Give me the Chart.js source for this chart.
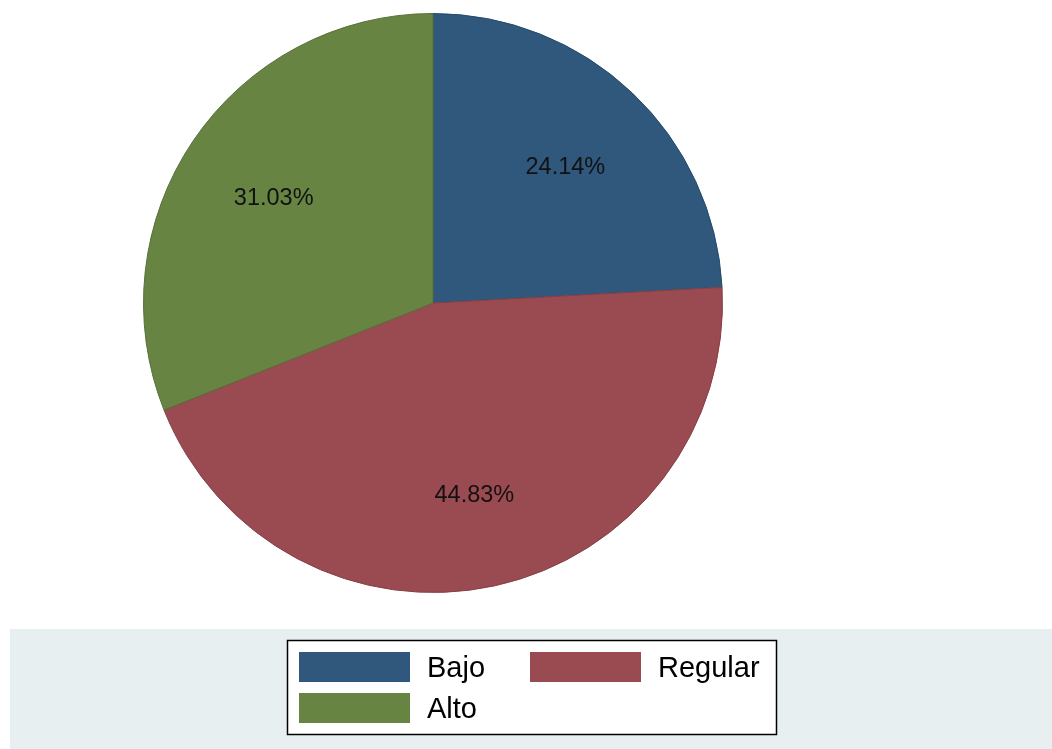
<!DOCTYPE html>
<html>
<head>
<meta charset="utf-8">
<script src="https://cdn.jsdelivr.net/npm/chart.js@4"></script>
<style>
  html, body { margin: 0; padding: 0; background: #ffffff; }
  #wrap { width: 1052px; height: 749px; position: relative; }
  canvas { display: block; }
</style>
</head>
<body>
<div id="wrap"><canvas id="c" width="1052" height="749"></canvas></div>
<script>
const categories = ['Bajo', 'Regular', 'Alto'];
const percentValues = [24.14, 44.83, 31.03];
const sliceColors = ['#2f587c', '#9a4a51', '#678443'];
const sliceBorders = ['#264a6a', '#853f45', '#56703a'];

const FONT = '"Liberation Sans", Arial, Helvetica, sans-serif';

const pctLabels = {
  id: 'pctLabels',
  afterDatasetsDraw(chart) {
    const ctx = chart.ctx;
    const meta = chart.getDatasetMeta(0);
    const data = chart.data.datasets[0].data;
    ctx.save();
    ctx.font = '23.5px ' + FONT;
    ctx.fillStyle = '#111111';
    ctx.textAlign = 'center';
    ctx.textBaseline = 'middle';
    meta.data.forEach((arc, i) => {
      const p = arc.getProps(['x', 'y', 'startAngle', 'endAngle', 'outerRadius'], true);
      const mid = (p.startAngle + p.endAngle) / 2;
      const r = p.outerRadius * 0.665;
      ctx.fillText(data[i].toFixed(2) + '%', p.x + Math.cos(mid) * r, p.y + Math.sin(mid) * r + 4);
    });
    ctx.restore();
  }
};

const stataLegend = {
  id: 'stataLegend',
  afterDraw(chart) {
    const ctx = chart.ctx;
    const labels = chart.data.labels;
    const colors = chart.data.datasets[0].backgroundColor;
    ctx.save();
    ctx.fillStyle = '#e8eff1';
    ctx.fillRect(10, 629, 1042, 120);
    ctx.fillStyle = '#ffffff';
    ctx.fillRect(287, 640, 490, 95);
    ctx.strokeStyle = '#000000';
    ctx.lineWidth = 1.5;
    ctx.strokeRect(287.5, 640.5, 489, 94);
    const slots = [
      { x: 299, y: 652 },
      { x: 530, y: 652 },
      { x: 299, y: 693 }
    ];
    ctx.font = '29px ' + FONT;
    ctx.textAlign = 'left';
    ctx.textBaseline = 'middle';
    labels.forEach((lab, i) => {
      const s = slots[i];
      ctx.fillStyle = colors[i];
      ctx.fillRect(s.x, s.y, 111, 30);
      ctx.fillStyle = '#000000';
      ctx.fillText(lab, s.x + 128, s.y + 17);
    });
    ctx.restore();
  }
};

new Chart(document.getElementById('c'), {
  type: 'pie',
  data: {
    labels: categories,
    datasets: [{
      data: percentValues,
      backgroundColor: sliceColors,
      borderColor: sliceBorders,
      borderWidth: 1
    }]
  },
  options: {
    responsive: false,
    animation: false,
    events: [],
    layout: { padding: { left: 143, right: 329, top: 13, bottom: 156 } },
    plugins: {
      legend: { display: false },
      tooltip: { enabled: false },
      title: { display: false }
    }
  },
  plugins: [pctLabels, stataLegend]
});
</script>
</body>
</html>
